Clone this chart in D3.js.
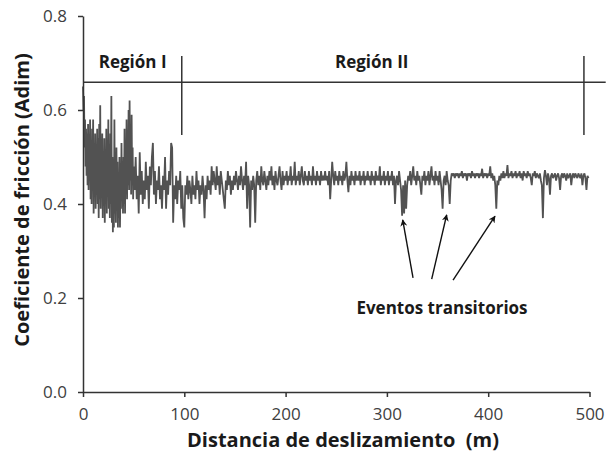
<!DOCTYPE html>
<html>
<head>
<meta charset="utf-8">
<script src="https://cdn.jsdelivr.net/npm/d3@7"></script>
<style>
    body { margin: 0; padding: 0; background: #fff; }
    svg { display: block; font-family: 'Open Sans', sans-serif; }
</style>
</head>
<body>
<div id="main"></div>
<script>
// friction coefficient, first 50 m sampled every 0.5 m
const runInStart = 0;
const runInStep = 0.5;
const runInMu = [
    0.65, 0.60, 0.63, 0.52, 0.58, 0.48, 0.56, 0.46, 0.55, 0.44,
    0.57, 0.43, 0.54, 0.45, 0.58, 0.41, 0.53, 0.40, 0.56, 0.43,
    0.58, 0.38, 0.52, 0.42, 0.55, 0.39, 0.50, 0.44, 0.56, 0.40,
    0.54, 0.37, 0.57, 0.41, 0.61, 0.39, 0.52, 0.43, 0.55, 0.37,
    0.50, 0.40, 0.54, 0.36, 0.49, 0.41, 0.56, 0.38, 0.51, 0.42,
    0.58, 0.39, 0.47, 0.37, 0.55, 0.40, 0.63, 0.36, 0.50, 0.34,
    0.48, 0.35, 0.58, 0.38, 0.46, 0.36, 0.52, 0.40, 0.49, 0.35,
    0.45, 0.37, 0.50, 0.35, 0.44, 0.39, 0.53, 0.41, 0.47, 0.38,
    0.50, 0.40, 0.56, 0.38, 0.52, 0.42, 0.58, 0.41, 0.55, 0.44,
    0.60, 0.43, 0.62, 0.45, 0.57, 0.42, 0.59, 0.44, 0.52, 0.41
];

// friction coefficient from 50 m to 499 m, every 1 m
const steadyStart = 50;
const steadyStep = 1;
const steadyMu = [
    0.48, 0.43, 0.50, 0.41, 0.46, 0.38, 0.51, 0.42, 0.47, 0.40,
    0.45, 0.41, 0.49, 0.43, 0.46, 0.39, 0.48, 0.44, 0.50, 0.53,
    0.42, 0.47, 0.40, 0.45, 0.43, 0.48, 0.41, 0.44, 0.39, 0.46,
    0.43, 0.50, 0.39, 0.45, 0.42, 0.47, 0.44, 0.53, 0.52, 0.36,
    0.44, 0.41, 0.46, 0.40, 0.45, 0.43, 0.47, 0.39, 0.44, 0.37,
    0.35, 0.44, 0.42, 0.46, 0.41, 0.45, 0.43, 0.40, 0.46, 0.42,
    0.44, 0.41, 0.47, 0.43, 0.45, 0.40, 0.44, 0.42, 0.46, 0.43,
    0.37, 0.44, 0.41, 0.46, 0.43, 0.45, 0.42, 0.48, 0.44, 0.47,
    0.45, 0.43, 0.48, 0.44, 0.46, 0.42, 0.47, 0.45, 0.43, 0.41,
    0.39, 0.45, 0.43, 0.47, 0.44, 0.46, 0.42, 0.45, 0.43, 0.46,
    0.44, 0.47, 0.45, 0.43, 0.46, 0.44, 0.48, 0.45, 0.43, 0.46,
    0.44, 0.49, 0.39, 0.46, 0.44, 0.35, 0.45, 0.43, 0.46, 0.44,
    0.36, 0.45, 0.47, 0.44, 0.46, 0.43, 0.48, 0.45, 0.44, 0.47,
    0.45, 0.43, 0.46, 0.44, 0.47, 0.45, 0.48, 0.44, 0.46, 0.43,
    0.47, 0.45, 0.44, 0.46, 0.48, 0.45, 0.43, 0.47, 0.44, 0.46,
    0.45, 0.47, 0.44, 0.46, 0.45, 0.48, 0.44, 0.46, 0.45, 0.49,
    0.44, 0.46, 0.45, 0.47, 0.44, 0.46, 0.48, 0.45, 0.44, 0.47,
    0.45, 0.46, 0.44, 0.47, 0.45, 0.46, 0.44, 0.48, 0.45, 0.46,
    0.44, 0.47, 0.45, 0.46, 0.44, 0.47, 0.45, 0.46, 0.45, 0.47,
    0.45, 0.46, 0.44, 0.47, 0.41, 0.45, 0.49, 0.46, 0.44, 0.47,
    0.45, 0.46, 0.44, 0.47, 0.45, 0.46, 0.44, 0.47, 0.45, 0.46,
    0.49, 0.45, 0.425, 0.46, 0.44, 0.47, 0.45, 0.46, 0.44, 0.47,
    0.45, 0.46, 0.45, 0.47, 0.44, 0.46, 0.45, 0.47, 0.44, 0.46,
    0.45, 0.47, 0.45, 0.46, 0.44, 0.47, 0.45, 0.46, 0.44, 0.47,
    0.45, 0.46, 0.45, 0.48, 0.44, 0.46, 0.45, 0.47, 0.44, 0.46,
    0.45, 0.47, 0.44, 0.46, 0.45, 0.47, 0.44, 0.46, 0.40, 0.45,
    0.46, 0.44, 0.47, 0.45, 0.43, 0.375, 0.44, 0.38, 0.45, 0.39,
    0.44, 0.46, 0.45, 0.47, 0.44, 0.46, 0.48, 0.45, 0.46, 0.44,
    0.47, 0.45, 0.46, 0.44, 0.42, 0.46, 0.45, 0.47, 0.44, 0.46,
    0.45, 0.47, 0.44, 0.46, 0.48, 0.45, 0.46, 0.44, 0.47, 0.45,
    0.46, 0.44, 0.47, 0.45, 0.43, 0.39, 0.45, 0.46, 0.44, 0.47,
    0.45, 0.44, 0.40, 0.45, 0.465, 0.46, 0.465, 0.455, 0.465, 0.46,
    0.465, 0.455, 0.465, 0.46, 0.47, 0.455, 0.465, 0.46, 0.465, 0.45,
    0.465, 0.46, 0.465, 0.455, 0.47, 0.46, 0.465, 0.455, 0.465, 0.46,
    0.465, 0.455, 0.465, 0.46, 0.475, 0.455, 0.465, 0.46, 0.465, 0.455,
    0.465, 0.46, 0.48, 0.455, 0.465, 0.45, 0.46, 0.44, 0.39, 0.45,
    0.44, 0.46, 0.45, 0.465, 0.455, 0.47, 0.455, 0.465, 0.46, 0.483,
    0.455, 0.465, 0.46, 0.47, 0.455, 0.465, 0.46, 0.47, 0.455, 0.465,
    0.46, 0.47, 0.455, 0.465, 0.45, 0.47, 0.46, 0.465, 0.455, 0.47,
    0.46, 0.465, 0.455, 0.44, 0.465, 0.46, 0.47, 0.455, 0.465, 0.46,
    0.455, 0.465, 0.45, 0.44, 0.37, 0.455, 0.472, 0.46, 0.44, 0.465,
    0.455, 0.42, 0.46, 0.465, 0.455, 0.46, 0.465, 0.45, 0.46, 0.465,
    0.455, 0.43, 0.46, 0.465, 0.455, 0.465, 0.46, 0.45, 0.465, 0.455,
    0.46, 0.465, 0.44, 0.46, 0.465, 0.455, 0.465, 0.46, 0.455, 0.465,
    0.46, 0.455, 0.465, 0.44, 0.46, 0.465, 0.455, 0.43, 0.46, 0.455
];

const xTicks = [0, 100, 200, 300, 400, 500];
const yTicks = [0.0, 0.2, 0.4, 0.6, 0.8];

// region boundary marks (distance, mu)
const regionLine = [[0, 0.659], [516, 0.659]];
const regionBounds = [97.5, 494.5];
const regionBoundMu = [0.547, 0.715];
const regionNames = ['Región I', 'Región II'];
const regionNameX = [49, 285];
const regionNameMu = 0.69;

// arrows to transient events: [tailX, tailMu, tipX, tipMu]
const eventArrows = [
    [325.8, 0.243, 315.6, 0.366],
    [344.2, 0.240, 359.0, 0.377],
    [365.3, 0.238, 406.7, 0.374]
];
const eventLabel = 'Eventos transitorios';
const eventLabelPos = [354.4, 0.166];

const WIDTH = 607;
const HEIGHT = 457;

const frictionPlot = (parentSelector) => {
    const dataSet = runInMu.map((mu, i) => ({dist: runInStart + i * runInStep, mu: mu}))
        .concat(steadyMu.map((mu, i) => ({dist: steadyStart + i * steadyStep, mu: mu})));

    const scaleX = d3.scaleLinear().domain([0, 500]).range([83, 589.5]);
    const scaleY = d3.scaleLinear().domain([0, 0.8]).range([392, 16]);

    const canvas = d3.select(parentSelector).append('svg').attr('width', WIDTH).attr('height', HEIGHT);

    const defs = canvas.append('defs');
    defs.append('marker')
        .attr('id', 'head')
        .attr('viewBox', '0 0 10 10')
        .attr('refX', 9).attr('refY', 5)
        .attr('markerWidth', 9).attr('markerHeight', 7)
        .attr('markerUnits', 'userSpaceOnUse')
        .attr('orient', 'auto')
        .append('path').attr('d', 'M0,0 L10,5 L0,10 L3,5 Z').attr('fill', '#111');

    // data line
    const line = d3.line().x((d) => scaleX(d.dist)).y((d) => scaleY(d.mu));
    canvas.append('path')
        .datum(dataSet)
        .attr('d', line)
        .attr('fill', 'none')
        .attr('stroke', '#525252')
        .attr('stroke-width', 1.8)
        .attr('stroke-linejoin', 'bevel');

    // axes
    const axisX = d3.axisBottom(scaleX).tickValues(xTicks).tickSize(5).tickSizeOuter(0).tickFormat(d3.format('d'));
    const axisY = d3.axisLeft(scaleY).tickValues(yTicks).tickSize(5).tickSizeOuter(0).tickFormat(d3.format('.1f'));
    const gx = canvas.append('g').attr('transform', 'translate(0, 392)').call(axisX);
    const gy = canvas.append('g').attr('transform', 'translate(83, 0)').call(axisY);
    [gx, gy].forEach((g) => {
        g.select('.domain').attr('stroke', '#333').attr('stroke-width', 1.5);
        g.selectAll('.tick line').attr('stroke', '#333').attr('stroke-width', 1.5);
        g.selectAll('.tick text').attr('fill', '#404040').style('font-size', '17px').style('font-family', "'Open Sans', sans-serif");
    });
    gx.selectAll('.tick text').attr('dy', '1.2em');
    gy.selectAll('.tick text').attr('x', -16).attr('dy', '0.35em');

    // region marks
    canvas.append('line')
        .attr('x1', scaleX(regionLine[0][0])).attr('y1', scaleY(regionLine[0][1]))
        .attr('x2', scaleX(regionLine[1][0])).attr('y2', scaleY(regionLine[1][1]))
        .attr('stroke', '#333').attr('stroke-width', 1.5);
    canvas.selectAll('.bound').data(regionBounds).enter().append('line')
        .attr('class', 'bound')
        .attr('x1', (d) => scaleX(d)).attr('x2', (d) => scaleX(d))
        .attr('y1', scaleY(regionBoundMu[0])).attr('y2', scaleY(regionBoundMu[1]))
        .attr('stroke', '#333').attr('stroke-width', 1.5);
    canvas.selectAll('.region').data(regionNames).enter().append('text')
        .attr('class', 'region')
        .attr('x', (d, i) => scaleX(regionNameX[i]))
        .attr('y', scaleY(regionNameMu))
        .attr('text-anchor', 'middle')
        .style('font-size', '17px').style('font-weight', 'bold').attr('fill', '#1a1a1a')
        .text((d) => d);

    // transient events
    canvas.selectAll('.arrow').data(eventArrows).enter().append('line')
        .attr('class', 'arrow')
        .attr('x1', (d) => scaleX(d[0])).attr('y1', (d) => scaleY(d[1]))
        .attr('x2', (d) => scaleX(d[2])).attr('y2', (d) => scaleY(d[3]))
        .attr('stroke', '#111').attr('stroke-width', 1.4)
        .attr('marker-end', 'url(#head)');
    canvas.append('text')
        .attr('x', scaleX(eventLabelPos[0])).attr('y', scaleY(eventLabelPos[1]))
        .attr('text-anchor', 'middle')
        .style('font-size', '17px').style('font-weight', 'bold').attr('fill', '#1a1a1a')
        .text(eventLabel);

    // axis titles
    canvas.append('text')
        .attr('x', 343).attr('y', 447)
        .attr('text-anchor', 'middle')
        .style('font-size', '20px').style('font-weight', 'bold').attr('fill', '#1a1a1a')
        .attr('xml:space', 'preserve')
        .text('Distancia de deslizamiento  (m)');
    canvas.append('text')
        .attr('transform', 'translate(29, 200) rotate(-90)')
        .attr('text-anchor', 'middle')
        .style('font-size', '20px').style('font-weight', 'bold').attr('fill', '#1a1a1a')
        .text('Coeficiente de fricción (Adim)');
};

frictionPlot('#main');
</script>
</body>
</html>
